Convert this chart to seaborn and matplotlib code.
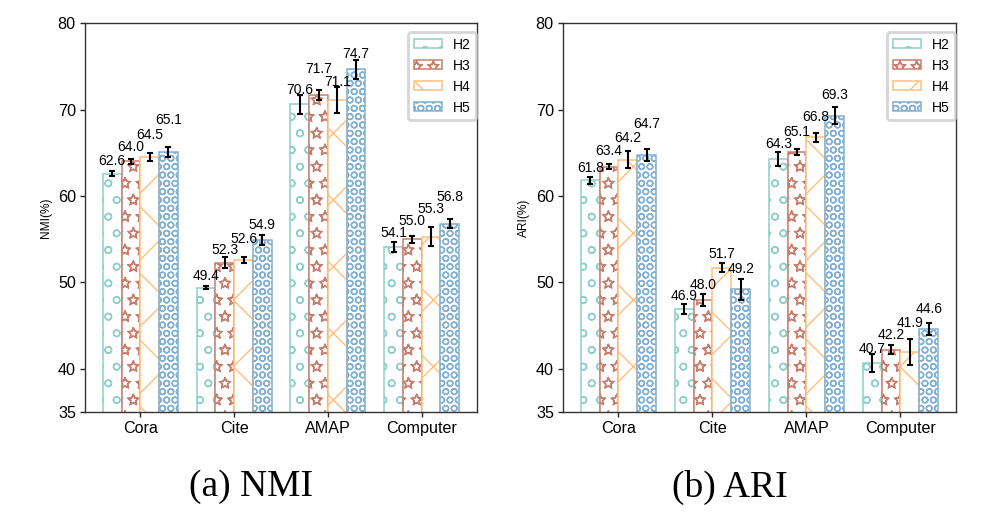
import numpy as np
import pandas as pd
import matplotlib
matplotlib.use('Agg')
import matplotlib.pyplot as plt
import matplotlib.hatch
from matplotlib.patches import Patch
import seaborn as sns

datasets = ['Cora', 'Cite', 'AMAP', 'Computer']
variants = ['H2', 'H3', 'H4', 'H5']

# mean values, rows = variants, columns = datasets
nmi_vals = [[62.6, 49.4, 70.6, 54.1],
            [64.0, 52.3, 71.7, 55.0],
            [64.5, 52.6, 71.1, 55.3],
            [65.1, 54.9, 74.7, 56.8]]
nmi_err = [[0.3, 0.15, 1.05, 0.6],
           [0.3, 0.6, 0.6, 0.4],
           [0.5, 0.3, 1.5, 1.1],
           [0.6, 0.6, 1.1, 0.5]]

ari_vals = [[61.8, 46.9, 64.3, 40.7],
            [63.4, 48.0, 65.1, 42.2],
            [64.2, 51.7, 66.8, 41.9],
            [64.7, 49.2, 69.3, 44.6]]
ari_err = [[0.35, 0.55, 0.8, 1.05],
           [0.3, 0.7, 0.35, 0.5],
           [1.0, 0.55, 0.55, 1.5],
           [0.7, 1.25, 0.95, 0.7]]

# how far above each bar the number sits (as in the original figure)
nmi_lift = [[1.4, 1.35, 1.7, 1.6],
            [1.7, 1.4, 3.0, 2.15],
            [2.55, 2.4, 2.05, 3.15],
            [3.7, 1.75, 1.75, 3.1]]
ari_lift = [[1.4, 1.55, 1.7, 1.55],
            [1.85, 1.7, 2.35, 1.7],
            [2.5, 1.6, 2.4, 3.35],
            [3.65, 2.3, 2.4, 2.3]]

colors = ['#8ECFC9', '#C97D6D', '#FFBE7A', '#82B0D2']
hatches = ['oo', '**', 'x', 'OOOO']

# outline stars instead of solid ones
matplotlib.hatch.Stars.filled = False

sns.set_theme(style='ticks')
plt.rcParams['font.family'] = ['Liberation Sans', 'DejaVu Sans']
plt.rcParams['hatch.linewidth'] = 0.5
plt.rcParams['axes.edgecolor'] = '#333333'
plt.rcParams['axes.linewidth'] = 0.5
plt.rcParams['text.color'] = 'black'
plt.rcParams['axes.labelcolor'] = 'black'
plt.rcParams['xtick.labelcolor'] = 'black'
plt.rcParams['ytick.labelcolor'] = 'black'


def make_df(vals):
    rows = []
    for i, v in enumerate(variants):
        for j, d in enumerate(datasets):
            rows.append({'dataset': d, 'variant': v, 'value': vals[i][j]})
    return pd.DataFrame(rows)


def draw_panel(ax, vals, errs, lifts, ylabel):
    df = make_df(vals)
    sns.barplot(data=df, x='dataset', y='value', hue='variant', order=datasets,
                hue_order=variants, palette=colors, errorbar=None, legend=False, ax=ax)
    bar_conts = list(ax.containers)
    for i, cont in enumerate(bar_conts):
        bars = sorted(cont.patches, key=lambda p: p.get_x())
        xs = []
        for p in bars:
            p.set_facecolor('white')
            p.set_edgecolor(colors[i])
            p.set_hatch(hatches[i])
            p.set_linewidth(0.55)
            xs.append(p.get_x() + p.get_width() / 2)
        xs = np.array(xs)
        ax.errorbar(xs, vals[i], yerr=errs[i], fmt='none', ecolor='black',
                    elinewidth=0.75, capsize=1.0, capthick=0.75, zorder=4)
        for x, v, l in zip(xs, vals[i], lifts[i]):
            ax.text(x, v + l, f'{v:.1f}', ha='center', va='center', fontsize=5, zorder=5)
    ax.set_ylim(35, 80)
    ax.set_xlim(-0.59, 3.59)
    ax.set_yticks([35, 40, 50, 60, 70, 80])
    ax.set_xlabel('')
    ax.set_ylabel(ylabel, fontsize=4.3, labelpad=2.2)
    ax.tick_params(axis='both', labelsize=5.8, length=1.8, width=0.5, pad=1.5)
    handles = [Patch(facecolor='white', edgecolor=c, hatch=h, linewidth=0.55, label=v)
               for c, h, v in zip(colors, hatches, variants)]
    ax.legend(handles=handles, loc='upper right', bbox_to_anchor=(0.998, 0.977),
              borderaxespad=0.0, fontsize=5, handleheight=0.6, frameon=True,
              edgecolor='0.8', fancybox=True)


fig = plt.figure(figsize=(983 / 200, 516 / 200), dpi=200)
ax1 = fig.add_axes([0.0865, 0.2016, 0.3988, 0.7533])
ax2 = fig.add_axes([0.5727, 0.2016, 0.3998, 0.7533])

draw_panel(ax1, nmi_vals, nmi_err, nmi_lift, 'NMI(%)')
draw_panel(ax2, ari_vals, ari_err, ari_lift, 'ARI(%)')

fig.text(0.255, 0.056, '(a) NMI', ha='center', va='center', fontsize=13.5,
         family=['Liberation Serif', 'DejaVu Serif'])
fig.text(0.742, 0.056, '(b) ARI', ha='center', va='center', fontsize=13.5,
         family=['Liberation Serif', 'DejaVu Serif'])

fig.savefig('out.png', dpi=200)
